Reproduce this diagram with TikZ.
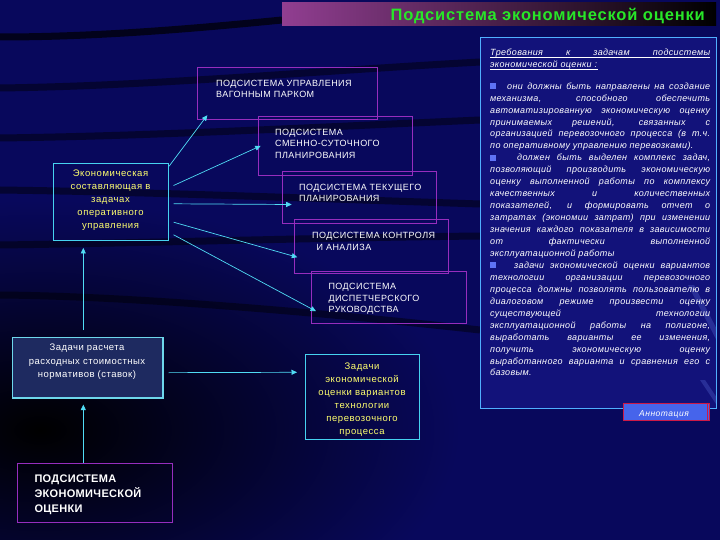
\documentclass[tikz,border=0pt]{standalone}
\usepackage{fontspec}
\setmainfont{Liberation Sans}
\usetikzlibrary{arrows.meta,calc}
\definecolor{bg}{RGB}{8,8,92}
\definecolor{panelbg}{RGB}{18,18,122}
\definecolor{panelline}{RGB}{80,175,255}
\definecolor{streak}{RGB}{120,150,255}
\definecolor{pcol}{RGB}{150,45,190}
\definecolor{ccol}{RGB}{70,210,240}
\definecolor{ccol2}{RGB}{110,215,235}
\definecolor{acol}{RGB}{80,220,245}
\definecolor{ytext}{RGB}{255,255,110}
\definecolor{tgreen}{RGB}{40,230,40}
\definecolor{tpurple}{RGB}{145,62,145}
\definecolor{bfill}{RGB}{30,42,96}
\definecolor{btn}{RGB}{70,100,235}
\definecolor{btnred}{RGB}{205,25,70}
\definecolor{bul}{RGB}{95,115,245}
\begin{document}
\begin{tikzpicture}[x=1pt,y=-1pt,
  pbox/.style={draw=pcol,line width=1pt,rectangle,inner sep=0pt,anchor=north west},
  cbox/.style={draw=ccol,line width=0.9pt,rectangle,inner sep=0pt,anchor=north west},
  ptext/.style={anchor=north west,inner sep=0pt,align=left,text=white,
     font=\addfontfeature{LetterSpace=5}\fontsize{9}{11.7}\selectfont},
  ytextst/.style={anchor=north,inner sep=0pt,align=center,text=ytext,
     font=\addfontfeature{LetterSpace=6}\fontsize{9.5}{12.9}\selectfont},
  conn/.style={draw=acol,line width=0.7pt,-{Triangle[length=5.5pt,width=5pt]}},
  band/.style={draw=black,line width=7pt,opacity=0.45}]
\useasboundingbox (0,0) rectangle (720,540);
% background
\fill[bg] (0,0) rectangle (720,540);
\begin{scope}
\clip (0,0) rectangle (720,540);
\shade[inner color=black, outer color=bg] (40,430) ellipse (420pt and 230pt);
\draw[band,opacity=0.7] (0,37) .. controls (100,37) and (200,28) .. (282,20);
\draw[band] (0,88) .. controls (150,86) and (300,72) .. (480,62);
\draw[band] (0,138) .. controls (150,136) and (300,128) .. (480,120);
\draw[band] (0,190) .. controls (150,192) and (300,198) .. (480,204);
\draw[band] (0,245) .. controls (150,243) and (300,238) .. (480,236);
\draw[band] (0,295) .. controls (120,296) and (300,310) .. (480,330);
\end{scope}
% title bar
\shade[left color=tpurple, right color=black] (282,3) rectangle (716,26);
\node[anchor=base east,inner sep=0pt,text=tgreen,
  font=\addfontfeature{LetterSpace=5}\fontsize{16.5}{19}\selectfont\bfseries]
  (title) at (705,20.5) {Подсистема экономической оценки};
% right panel
\node[draw=panelline,line width=0.9pt,fill=panelbg,
  anchor=north west,minimum width=236pt,minimum height=370.5pt,inner sep=0pt]
  (panel) at (480,37.5) {};
\begin{scope}
\clip (480,37.5) rectangle (716,408);
\fill[streak,opacity=0.22] (688,285) -- (694,285) -- (725,345) -- (719,345) -- cycle;
\fill[streak,opacity=0.22] (700,380) -- (705,380) -- (725,410) -- (720,410) -- cycle;
\end{scope}
\node[anchor=north west,inner sep=0pt,text=white,text width=220pt,align=justify,
  font=\addfontfeature{LetterSpace=4}\fontsize{9}{12.3}\selectfont\itshape]
  (head) at (490,47) {\rule{0pt}{8pt}Требования к задачам подсистемы\linebreak экономической оценки :};
\draw[white,line width=0.6pt] (490,57) -- (710,57);
\draw[white,line width=0.6pt] (490,69.5) -- (598,69.5);
\node[anchor=north west,inner sep=0pt,text=white,text width=220pt,align=justify,
  font=\addfontfeature{LetterSpace=4}\fontsize{9}{11.95}\selectfont\itshape]
  (body) at (490,81) {\rule{0pt}{8pt}\textcolor{bul}{\rule{6pt}{6pt}}\hspace{11pt}они должны быть направлены на создание\linebreak
механизма, способного обеспечить\linebreak
автоматизированную экономическую оценку\linebreak
принимаемых решений, связанных с\linebreak
организацией перевозочного процесса (в т.ч.\linebreak
по оперативному управлению перевозками).\par
\textcolor{bul}{\rule{6pt}{6pt}}\hspace{21pt}должен быть выделен комплекс задач,\linebreak
позволяющий производить экономическую\linebreak
оценку выполненной работы по комплексу\linebreak
качественных и количественных\linebreak
показателей, и формировать отчет о\linebreak
затратах (экономии затрат) при изменении\linebreak
значения каждого показателя в зависимости\linebreak
от фактически выполненной\linebreak
эксплуатационной работы\par
\textcolor{bul}{\rule{6pt}{6pt}}\hspace{18pt}задачи экономической оценки вариантов\linebreak
технологии организации перевозочного\linebreak
процесса должны позволять пользователю в\linebreak
диалоговом режиме произвести оценку\linebreak
существующей технологии\linebreak
эксплуатационной работы на полигоне,\linebreak
выработать варианты ее изменения,\linebreak
получить экономическую оценку\linebreak
выработанного варианта и сравнения его с\linebreak
базовым.};
% annotation button
\node[draw=btnred,line width=1pt,fill=btn,anchor=north west,minimum width=85.5pt,
  minimum height=17.5pt,inner sep=0pt] (btn) at (623,402.5) {};
\draw[btnred,line width=0.8pt] ($(btn.north east)+(-2.5,0)$) -- ($(btn.south east)+(-2.5,0)$);
\node[anchor=base,inner sep=0pt,text=white,
  font=\addfontfeature{LetterSpace=6}\fontsize{8.5}{10}\selectfont\itshape] (btntext)
  at (664,416) {Аннотация};
% purple subsystem boxes
\node[pbox,minimum width=179.4pt,minimum height=52.5pt] (p1) at (197.3,66.7) {};
\node[pbox,minimum width=154pt,minimum height=59.3pt] (p2) at (257.7,115.7) {};
\node[pbox,minimum width=154pt,minimum height=52.6pt] (p3) at (281.7,170.7) {};
\node[pbox,minimum width=154pt,minimum height=54pt] (p4) at (294.3,219.3) {};
\node[pbox,minimum width=154.7pt,minimum height=52.6pt] (p5) at (311,270.7) {};
\node[ptext] (t1) at (216,79) {\rule{0pt}{7pt}ПОДСИСТЕМА УПРАВЛЕНИЯ\\ВАГОННЫМ ПАРКОМ};
\node[ptext] (t2) at (275,128) {\rule{0pt}{7pt}ПОДСИСТЕМА\\СМЕННО-СУТОЧНОГО\\ПЛАНИРОВАНИЯ};
\node[ptext] (t3) at (299,183) {\rule{0pt}{7pt}ПОДСИСТЕМА ТЕКУЩЕГО\\ПЛАНИРОВАНИЯ};
\node[ptext] (t4) at (312,231.3) {\rule{0pt}{7pt}ПОДСИСТЕМА КОНТРОЛЯ\\\ \,И АНАЛИЗА};
\node[ptext] (t5) at (328.3,282.3) {\rule{0pt}{7pt}ПОДСИСТЕМА\\ДИСПЕТЧЕРСКОГО\\РУКОВОДСТВА};
% yellow boxes
\node[cbox,minimum width=114.4pt,minimum height=77.3pt] (e) at (53.3,162.7) {};
\node[ytextst] (et) at (110.5,169.7) {\rule{0pt}{7pt}Экономическая\\составляющая в\\задачах\\оперативного\\управления};
\node[cbox,minimum width=114.3pt,minimum height=84.7pt] (y2) at (305,354.3) {};
\node[ytextst] (yt) at (362,362.3) {\rule{0pt}{7pt}Задачи\\экономической\\оценки вариантов\\технологии\\перевозочного\\процесса};
% bottom-left boxes
\node[cbox,draw=ccol2,line width=1.3pt,fill=bfill,
  minimum width=150.6pt,minimum height=60.6pt] (b) at (11.7,336.7) {};
\node[anchor=north,inner sep=0pt,align=center,text=white,
  font=\addfontfeature{LetterSpace=5}\fontsize{9.5}{13.3}\selectfont] (bt)
  at (87,343.7) {\rule{0pt}{7pt}Задачи расчета\\расходных стоимостных\\нормативов (ставок)};
\node[pbox,minimum width=154.4pt,minimum height=59.6pt] (ec) at (17.3,462.7) {};
\node[anchor=north west,inner sep=0pt,align=left,text=white,
  font=\addfontfeature{LetterSpace=3}\fontsize{11}{14.8}\selectfont\bfseries] (ect)
  at (34.3,474.7) {\rule{0pt}{8pt}ПОДСИСТЕМА\\ЭКОНОМИЧЕСКОЙ\\ОЦЕНКИ};
% connectors
\draw[conn] ($(e.north east)+(0.5,3.5)$) -- ($(p1.south west)+(10,-5)$);
\draw[conn] ($(e.east)+(5,-16.3)$) -- ($(p2.west)+(3,0)$);
\draw[conn] ($(e.east)+(5,2)$) -- ($(p3.west)+(10,7)$);
\draw[conn] ($(e.east)+(5,20.4)$) -- ($(p4.west)+(3,10.4)$);
\draw[conn] ($(e.east)+(5,33)$) -- ($(p5.west)+(5,13.7)$);
\draw[conn] ($(b.north west)+(71.6,-6.7)$) -- ($(e.south west)+(30,7)$);
\draw[conn] ($(b.east)+(5,5)$) -- ($(y2.north west)+(-8,18)$);
\draw[conn] ($(ec.north west)+(66,0)$) -- ($(b.south west)+(71.6,6)$);
\end{tikzpicture}
\end{document}
